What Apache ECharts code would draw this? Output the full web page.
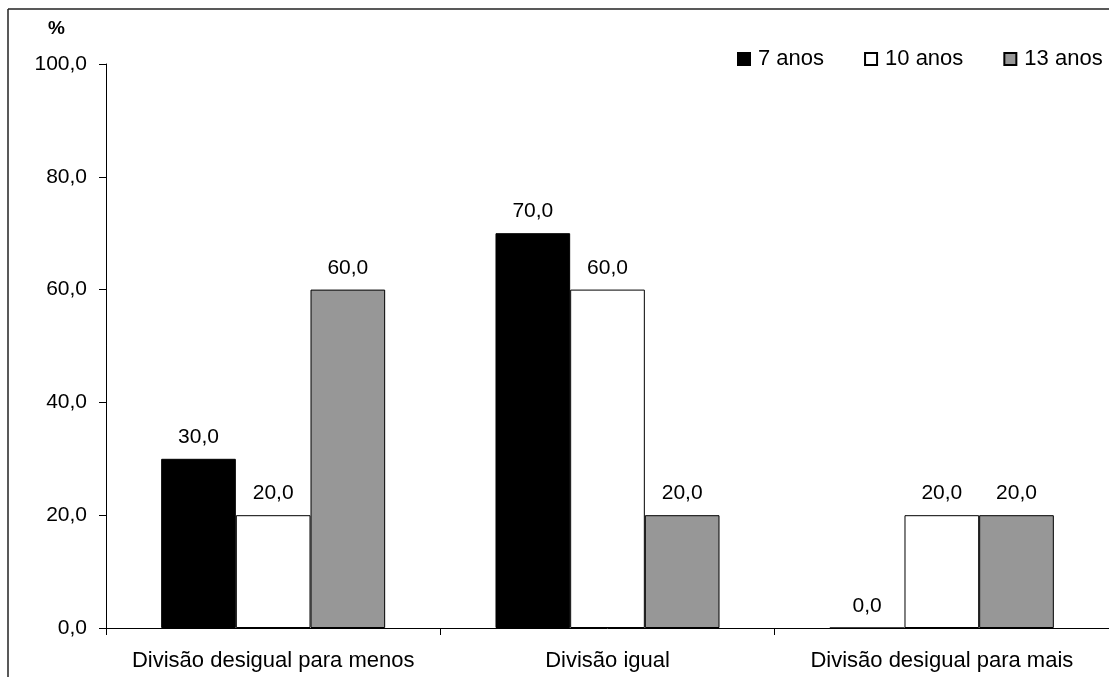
<!DOCTYPE html>
<html><head><meta charset="utf-8">
<script src="https://cdn.jsdelivr.net/npm/echarts@6/dist/echarts.min.js"></script>
<style>html,body{margin:0;padding:0;background:#fff}#c{width:1109px;height:677px}</style>
</head><body><div id="c"></div>
<script>
const categories = ['Divisão desigual para menos', 'Divisão igual', 'Divisão desigual para mais'];
const seriesNames = ['7 anos', '10 anos', '13 anos'];
const anos7 = [30, 70, 0];
const anos10 = [20, 60, 20];
const anos13 = [60, 20, 20];
const yTicks = [0, 20, 40, 60, 80, 100];
const colors = ['#000000', '#ffffff', '#979797'];
const values = [anos7, anos10, anos13];
const font = 'Liberation Sans, Arial, sans-serif';
const fmt = v => Number(v).toFixed(1).replace('.', ',');
const chart = echarts.init(document.getElementById('c'), null, {renderer: 'canvas'});
chart.setOption({
  animation: false,
  textStyle: {fontFamily: font},
  grid: {left: 106, right: 0, top: 64, bottom: 49},
  legend: {
    left: 732, top: 43, itemWidth: 12, itemHeight: 12, itemGap: 40, icon: 'rect',
    data: seriesNames,
    textStyle: {fontFamily: font, fontSize: 22, color: '#000', padding: [0, 0, 0, 3]},
  },
  xAxis: {
    type: 'category', data: categories,
    axisLine: {lineStyle: {color: '#000', width: 1}},
    axisTick: {show: true, length: 7, lineStyle: {color: '#000'}},
    axisLabel: {fontFamily: font, fontSize: 22, color: '#000', margin: 22, interval: 0, hideOverlap: false},
  },
  yAxis: {
    type: 'value', min: yTicks[0], max: yTicks[yTicks.length - 1], interval: 20,
    splitLine: {show: false},
    axisLine: {show: true, lineStyle: {color: '#000', width: 1}},
    axisTick: {show: true, length: 7, lineStyle: {color: '#000'}},
    axisLabel: {fontFamily: font, fontSize: 21, color: '#000', margin: 19, formatter: fmt},
  },
  graphic: [
    {type: 'line', shape: {x1: 8, y1: 9, x2: 1109, y2: 9}, style: {stroke: '#222', lineWidth: 1.5}},
    {type: 'line', shape: {x1: 8, y1: 9, x2: 8, y2: 677}, style: {stroke: '#222', lineWidth: 1.5}},
    {type: 'text', left: 48, top: 19, style: {text: '%', font: 'bold 19px Liberation Sans, Arial', fill: '#000'}},
  ],
  series: seriesNames.map((n, i) => ({
    name: n, type: 'bar', data: values[i],
    barGap: '0%', barCategoryGap: '33%',
    itemStyle: {color: colors[i], borderColor: '#000', borderWidth: 1},
    label: {show: true, position: 'top', distance: 11, fontFamily: font, fontSize: 21, color: '#000', formatter: p => fmt(p.value)},
  })),
});
</script></body></html>
